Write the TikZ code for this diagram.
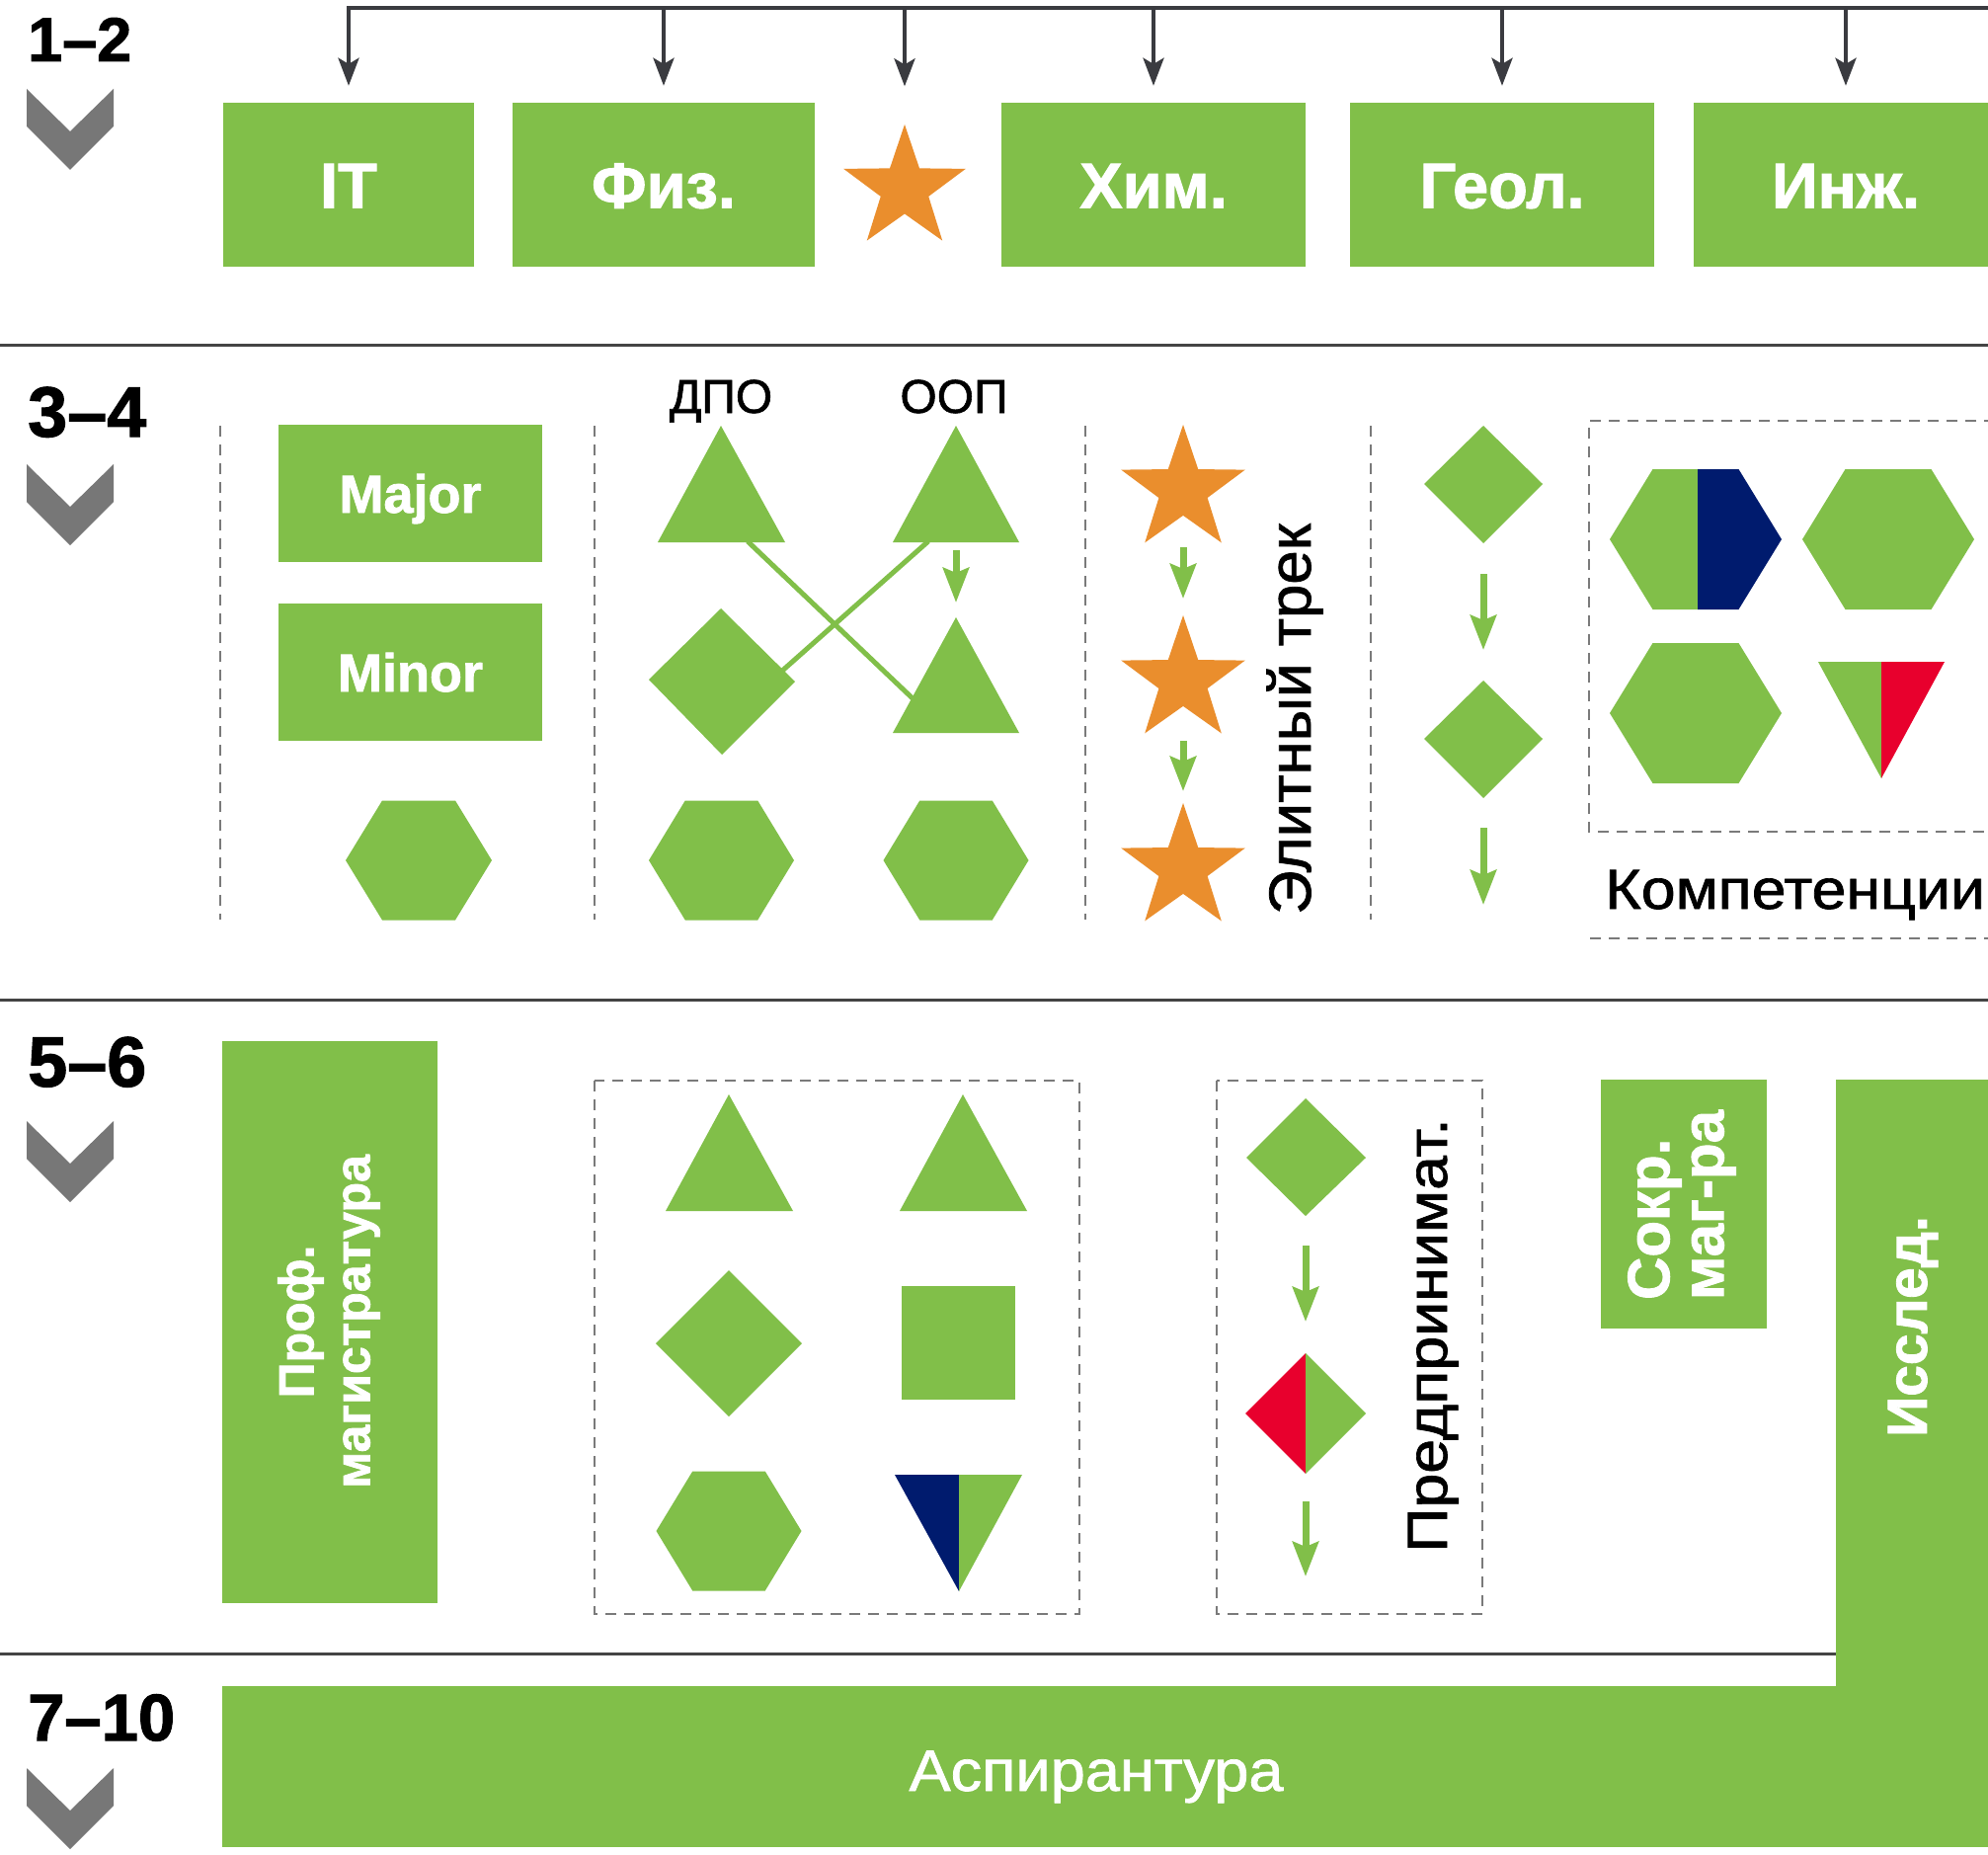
\documentclass[tikz,border=0pt]{standalone}
\usepackage{fontspec}
\setmainfont{Liberation Sans}
\newfontfamily\medfont{Liberation Sans}[FakeBold=1.2]
\newfontfamily\heavyfont{Liberation Sans}[UprightFont={Liberation Sans Bold},FakeBold=1.5]
\usetikzlibrary{arrows.meta,shapes.geometric}
\definecolor{gr}{RGB}{129,191,73}
\definecolor{org}{RGB}{234,142,45}
\definecolor{navy}{RGB}{0,27,110}
\definecolor{rd}{RGB}{232,0,45}
\definecolor{chevc}{RGB}{119,119,119}
\definecolor{dk}{RGB}{58,59,64}
\definecolor{sepc}{RGB}{68,68,68}
\definecolor{dsh}{RGB}{122,122,122}
% hexagon: cx, cy, width, height, style
\newcommand\hexfill[5]{\fill[#5] ({#1-#3/2},{#2}) -- ({#1-#3/4},{#2-#4/2}) -- ({#1+#3/4},{#2-#4/2}) -- ({#1+#3/2},{#2}) -- ({#1+#3/4},{#2+#4/2}) -- ({#1-#3/4},{#2+#4/2}) -- cycle;}
\newcommand\chevron[2]{\fill[chevc] (#1,#2) -- ({#1+44},{#2+43}) -- ({#1+88},#2) -- ({#1+88},{#2+38}) -- ({#1+44},{#2+82}) -- (#1,{#2+38}) -- cycle;}
\begin{document}
\begin{tikzpicture}[x=1pt,y=-1pt,
  gfill/.style={fill=gr},
  gbox/.style={fill=gr, inner sep=0pt, text=white},
  topfont/.style={font={\heavyfont\fontsize{65}{70}\selectfont}, text height=47pt, text depth=0pt},
  mmfont/.style={font={\heavyfont\fontsize{54}{60}\selectfont}, text height=39pt, text depth=0pt},
  dkline/.style={draw=dk, line width=4.5pt},
  dkarrow/.style={draw=dk, line width=4pt, -{Stealth[length=28pt,width=21pt,inset=6pt]}},
  garrow/.style={draw=gr, line width=7pt, -{Stealth[length=35pt,width=26pt,inset=5pt]}},
  gline/.style={draw=gr, line width=5pt},
  sepline/.style={draw=sepc, line width=3pt},
  dashln/.style={draw=dsh, line width=2.5pt, dash pattern=on 11pt off 8pt},
  yearlbl/.style={anchor=base west, inner sep=0pt, text=black},
  blk/.style={inner sep=0pt, text=black},
  starnode/.style={star, star points=5, star point ratio=2.55, minimum size=132pt, inner sep=0pt, fill=org}
]
\useasboundingbox (0,0) rectangle (2013,1878);
\fill[white] (0,0) rectangle (2013,1878);
\clip (0,0) rectangle (2013,1878);

% ---------- year labels and chevrons ----------
\node[yearlbl, font={\heavyfont\fontsize{63}{63}\selectfont}] (y12) at (28,62) {1–2};
\node[yearlbl, font={\heavyfont\fontsize{72}{72}\selectfont}] (y34) at (28,442) {3–4};
\node[yearlbl, font={\heavyfont\fontsize{72}{72}\selectfont}] (y56) at (28,1100) {5–6};
\node[yearlbl, font={\heavyfont\fontsize{67}{67}\selectfont}] (y710) at (28,1762) {7–10};
\chevron{27}{90}
\chevron{27}{470}
\chevron{27}{1135}
\chevron{27}{1790}

% ---------- separators ----------
\draw[sepline] (0,349) -- (2013,349);
\draw[sepline] (0,1012) -- (2013,1012);
\draw[sepline] (0,1674) -- (1859,1674);

% ---------- row 1 ----------
\node[gbox, topfont, minimum width=254pt, minimum height=166pt] (it) at (353,187) {IT};
\node[gbox, topfont, minimum width=306pt, minimum height=166pt] (fiz) at (672,187) {Физ.};
\node[starnode, minimum size=130pt] (st0) at (916,191) {};
\node[gbox, topfont, minimum width=308pt, minimum height=166pt] (him) at (1168,187) {Хим.};
\node[gbox, topfont, minimum width=308pt, minimum height=166pt] (geol) at (1521,187) {Геол.};
\node[gbox, topfont, minimum width=308pt, minimum height=166pt] (inzh) at (1869,187) {Инж.};
\coordinate (bus) at (353,8);
\draw[dkline] (351,8) -- (2020,8);
\draw[dkarrow, shorten >=17pt] (it.north |- bus) -- (it.north);
\draw[dkarrow, shorten >=17pt] (fiz.north |- bus) -- (fiz.north);
\draw[dkarrow, shorten >=38pt] (st0.north |- bus) -- (st0.north);
\draw[dkarrow, shorten >=17pt] (him.north |- bus) -- (him.north);
\draw[dkarrow, shorten >=17pt] (geol.north |- bus) -- (geol.north);
\draw[dkarrow, shorten >=17pt] (inzh.north |- bus) -- (inzh.north);

% ---------- row 2 ----------
\foreach \xx in {223,602,1099,1388} \draw[dashln] (\xx,431) -- (\xx,931);
\node[gbox, mmfont, minimum width=267pt, minimum height=139pt] (major) at (415.5,499.5) {Major};
\node[gbox, mmfont, minimum width=267pt, minimum height=139pt] (minor) at (415.5,680.5) {Minor};
\hexfill{424}{871}{148}{121}{gfill}

\node[blk, anchor=base, font={\medfont\fontsize{48}{48}\selectfont}] (dpo) at (730,418) {ДПО};
\node[blk, anchor=base, font={\medfont\fontsize{48}{48}\selectfont}] (oop) at (966,418) {ООП};
\fill[gfill] (730,431) -- (795,549) -- (666,549) -- cycle;
\fill[gfill] (968,431) -- (1032,549) -- (904,549) -- cycle;
\fill[gfill] (968,625) -- (1032,742) -- (904,742) -- cycle;
\fill[gfill] (730,616) -- (805,690) -- (731,764) -- (657,688) -- cycle;
\coordinate (la1) at (757,548); \coordinate (la2) at (924,707);
\coordinate (lb1) at (940,548); \coordinate (lb2) at (791,680);
\draw[gline] (la1) -- (la2);
\draw[gline] (lb1) -- (lb2);
\coordinate (oa1) at (968,557); \coordinate (oa2) at (968,610);
\draw[garrow] (oa1) -- (oa2);
\hexfill{730.5}{871}{147}{121}{gfill}
\hexfill{968}{871}{147}{121}{gfill}

% elite track
\node[starnode] (s1) at (1198,496) {};
\node[starnode] (s2) at (1198,689) {};
\node[starnode] (s3) at (1198,879) {};
\coordinate (e1a) at (1198,554); \coordinate (e1b) at (1198,606);
\coordinate (e2a) at (1198,750); \coordinate (e2b) at (1198,801);
\draw[garrow] (e1a) -- (e1b);
\draw[garrow] (e2a) -- (e2b);
\node[blk, anchor=base, rotate=90, font={\medfont\fontsize{60}{60}\selectfont}] (elite) at (1327,728) {\scalebox{1.03}[1]{Элитный трек}};

% diamonds column
\fill[gfill] (1502,431) -- (1562,490) -- (1502,550) -- (1442,490) -- cycle;
\fill[gfill] (1502,689) -- (1562,748) -- (1502,808) -- (1442,748) -- cycle;
\coordinate (d1a) at (1502,581); \coordinate (d1b) at (1502,658);
\coordinate (d2a) at (1502,838); \coordinate (d2b) at (1502,916);
\draw[garrow] (d1a) -- (d1b);
\draw[garrow] (d2a) -- (d2b);

% competencies
\draw[dashln] (2020,426) -- (1609,426) -- (1609,842) -- (2020,842);
\draw[dashln] (1610,950) -- (2020,950);
\fill[gfill] (1630,546) -- (1673.5,475) -- (1719,475) -- (1719,617) -- (1673.5,617) -- cycle;
\fill[navy] (1719,475) -- (1760.5,475) -- (1804,546) -- (1760.5,617) -- (1719,617) -- cycle;
\hexfill{1912}{546}{174}{142}{gfill}
\hexfill{1717}{722}{174}{142}{gfill}
\fill[gfill] (1841,670) -- (1905,670) -- (1905,788) -- cycle;
\fill[rd] (1905,670) -- (1969,670) -- (1905,788) -- cycle;
\node[blk, anchor=base west, font={\medfont\fontsize{57}{57}\selectfont}] (komp) at (1625,920) {\scalebox{1.1}[1]{Компетенции}};

% ---------- row 3 ----------
\node[gbox, minimum width=218pt, minimum height=569pt] (prof) at (334,1338.5) {};
\node[inner sep=0pt, text=white, rotate=90, align=center, font={\heavyfont\fontsize{50}{57}\selectfont}] (proft) at (333,1338) {Проф.\\магистратура};

\draw[dashln] (602,1094) rectangle (1093,1634);
\fill[gfill] (738,1108) -- (803,1226) -- (674,1226) -- cycle;
\fill[gfill] (975,1108) -- (1040,1226) -- (911,1226) -- cycle;
\fill[gfill] (738,1286) -- (812,1360) -- (738,1434) -- (664,1360) -- cycle;
\fill[gfill] (913,1302) rectangle (1028,1417);
\hexfill{738}{1550}{147}{121}{gfill}
\fill[navy] (906,1493) -- (971,1493) -- (971,1611) -- cycle;
\fill[gfill] (971,1493) -- (1035,1493) -- (971,1611) -- cycle;

\draw[dashln] (1232,1094) rectangle (1501,1634);
\fill[gfill] (1322,1112) -- (1383,1172) -- (1322,1231) -- (1262,1172) -- cycle;
\fill[rd] (1322,1370) -- (1322,1492) -- (1261,1431) -- cycle;
\fill[gfill] (1322,1370) -- (1383,1431) -- (1322,1492) -- cycle;
\coordinate (p1a) at (1322,1261); \coordinate (p1b) at (1322,1338);
\coordinate (p2a) at (1322,1520); \coordinate (p2b) at (1322,1596);
\draw[garrow] (p1a) -- (p1b);
\draw[garrow] (p2a) -- (p2b);
\node[blk, anchor=base, rotate=90, font={\medfont\fontsize{57}{57}\selectfont}] (predp) at (1465,1352) {\scalebox{1.1}[1]{Предпринимат.}};

\node[gbox, minimum width=168pt, minimum height=252pt] (sokr) at (1705,1219) {};
\node[inner sep=0pt, text=white, rotate=90, align=left, font={\heavyfont\fontsize{60}{55}\selectfont}] (sokrt) at (1703,1220) {Сокр.\\маг-ра};

% research + postgraduate (L shape)
\node[gbox, minimum width=170pt, minimum height=777pt, anchor=north west] (issl) at (1859,1093) {};
\node[gbox, minimum width=1800pt, minimum height=163pt, anchor=north west] (aspir) at (225,1707) {};
\node[inner sep=0pt, text=white, rotate=90, font={\heavyfont\fontsize{57}{57}\selectfont}] (isslt) at (1937,1343) {Исслед.};
\node[inner sep=0pt, text=white, anchor=base, font={\medfont\fontsize{59}{59}\selectfont}] (aspirt) at (1110,1813) {\scalebox{1.07}[1]{Аспирантура}};
\end{tikzpicture}
\end{document}
